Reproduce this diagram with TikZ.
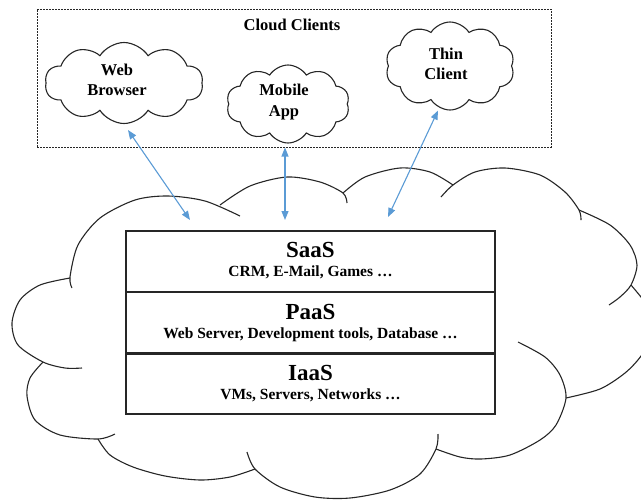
\documentclass[tikz,border=0pt]{standalone}
\usepackage{fontspec}
\setmainfont{Liberation Serif}
\usetikzlibrary{shapes.symbols,arrows.meta,calc}
\definecolor{arrblue}{RGB}{91,155,213}
\begin{document}
\begin{tikzpicture}[x=1pt,y=-1pt,
  puff/.style={draw=black!85, line width=1.1pt},
  smallcloud/.style={cloud, cloud puffs=10, cloud puff arc=115, cloud ignores aspect, draw=black!85, line width=1.1pt, inner sep=0pt},
  cloudtext/.style={align=center, font=\bfseries\fontsize{16.5}{20.5}\selectfont, inner sep=0pt},
  layer/.style={draw=black!85, line width=1.2pt, minimum width=369pt, minimum height=61pt, inner sep=0pt},
  title/.style={anchor=base, font=\bfseries\fontsize{23}{27}\selectfont, inner sep=0pt},
  subtitle/.style={anchor=base, font=\bfseries\fontsize{15.5}{18}\selectfont, inner sep=0pt},
  cctitle/.style={font=\bfseries\fontsize{16.5}{20}\selectfont, inner sep=0pt},
  clientsbox/.style={draw=black!85, dash pattern=on 2pt off 1pt, line width=1pt, minimum width=514pt, minimum height=138pt, inner sep=0pt},
  link/.style={arrblue, line width=1.1pt, {Triangle[length=9pt,width=7pt]}-{Triangle[length=9pt,width=7pt]}}
]
\useasboundingbox (0,0) rectangle (641,499);
\begin{scope}
\clip (0,0) rectangle (641,499);
% big cloud, drawn as bumps
\draw[puff] plot[smooth] coordinates {(72,288) (70,277) (78,245) (100,218) (135,200) (168,196) (205,201) (240,216)};
\draw[puff] plot[smooth] coordinates {(70,278) (40,285) (20,300) (12,323) (18,345) (43,362) (65,368) (82,368)};
\draw[puff] plot[smooth] coordinates {(43,362) (30,378) (27,396) (35,420) (60,435) (98,439) (115,434)};
\draw[puff] plot[smooth] coordinates {(98,439) (110,455) (133,467) (165,476) (200,480) (230,477) (255,469)};
\draw[puff] plot[smooth] coordinates {(247,452) (255,469) (280,487) (315,497) (350,498) (390,490) (420,474) (436,449) (438,434)};
\draw[puff] plot[smooth] coordinates {(436,449) (460,457) (481,459) (510,455) (540,440) (556,425) (566,398) (560,375) (545,357) (518,342)};
\draw[puff] plot[smooth] coordinates {(566,398) (600,389) (625,373) (641,356) (652,335) (653,313) (641,297) (631,285)};
\draw[puff] plot[smooth] coordinates {(579,210) (610,225) (630,245) (637,265) (631,285) (620,297) (609,305)};
\draw[puff] plot[smooth] coordinates {(441,197) (453,185) (475,172) (505,168) (540,175) (565,192) (579,210) (581,220)};
\draw[puff] plot[smooth] coordinates {(343,193) (365,177) (400,168) (430,172) (453,185)};
\draw[puff] plot[smooth] coordinates {(220,205) (250,186) (287,177) (320,182) (343,193) (347,203)};
\end{scope}

% cloud clients
\node[clientsbox] (clients) at (294,78) {};
\node[cctitle] (cct) at (292,25) {Cloud Clients};
\node[smallcloud, minimum width=158pt, minimum height=81pt] (wb) at (124,83) {};
\node[smallcloud, minimum width=123pt, minimum height=78pt] (ma) at (288,104) {};
\node[smallcloud, minimum width=129pt, minimum height=88pt] (tc) at (450,66) {};
\node[cloudtext] (wbt) at (117,80) {Web\\Browser};
\node[cloudtext] (mat) at (284,102) {Mobile\\App};
\node[cloudtext] (tct) at (446,64) {Thin\\Client};

% service layers
\node[layer] (saas) at (310.5,261.5) {};
\node[layer] (paas) at (310.5,322.5) {};
\node[layer] (iaas) at (310.5,383.5) {};
\draw[draw=black!85, line width=2.2pt] (paas.south west) -- (paas.south east);

\node[title] (saast) at ($(saas.north)+(0,27.5)$) {SaaS};
\node[subtitle] (saass) at ($(saas.north)+(0,46.5)$) {CRM, E-Mail, Games …};
\node[title] (paast) at ($(paas.north)+(0,28)$) {PaaS};
\node[subtitle] (paass) at ($(paas.north)+(0,47)$) {Web Server, Development tools, Database …};
\node[title] (iaast) at ($(iaas.north)+(0,28.5)$) {IaaS};
\node[subtitle] (iaass) at ($(iaas.north)+(0,47)$) {VMs, Servers, Networks …};

% connectors
\coordinate (e1) at (190,220);
\coordinate (e2) at (285,220);
\coordinate (e3) at (388,217);
\draw[link] (e1) -- ($(wb.south)+(4,6)$);
\draw[link] (e2) -- (e2 |- clients.south);
\draw[link] (e3) -- ($(tc.south)+(-12,0)$);
\end{tikzpicture}
\end{document}
